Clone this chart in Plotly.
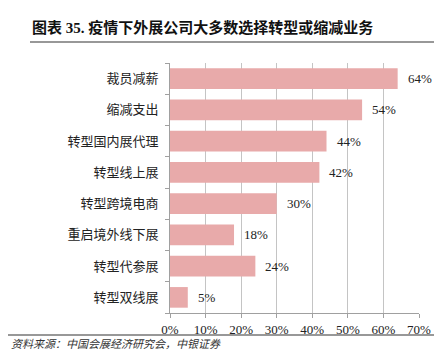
import plotly.graph_objects as go

categories = ["裁员减薪", "缩减支出", "转型国内展代理", "转型线上展", "转型跨境电商", "重启境外线下展", "转型代参展", "转型双线展"]
values = [64, 54, 44, 42, 30, 18, 24, 5]
x_ticks = [0, 10, 20, 30, 40, 50, 60, 70]
title_text = "图表 35. 疫情下外展公司大多数选择转型或缩减业务"
source_text = "资料来源：中国会展经济研究会，中银证券"

CJK = "Liberation Serif, Noto Sans CJK SC"
bar_color = "#E8AAAA"

PW, PH = 249, 250

fig = go.Figure()
fig.add_trace(go.Bar(
    x=values, y=categories, orientation="h",
    marker=dict(color=bar_color, line=dict(width=0)),
    width=0.66,
))

for c, v in zip(categories, values):
    fig.add_annotation(x=v, y=c, text=f"{v}%", showarrow=False, xanchor="left",
                       xshift=8, font=dict(family="Liberation Serif", size=13, color="#222"))

fig.update_layout(
    width=442, height=358,
    margin=dict(l=162, r=31, t=55, b=53, autoexpand=False),
    paper_bgcolor="white", plot_bgcolor="white",
    showlegend=False,
    font=dict(family=CJK, size=12, color="#222"),
)
fig.update_xaxes(
    range=[0, 70], tickvals=x_ticks, ticktext=[f"{t}%" for t in x_ticks],
    showgrid=True, gridcolor="#C4C4C4", gridwidth=1,
    showline=True, linecolor="#A0A0A0", linewidth=1,
    ticks="outside", ticklen=4, tickcolor="#A0A0A0",
    tickfont=dict(family="Liberation Serif", size=13, color="#222"),
    zeroline=False, automargin=False,
)
fig.update_yaxes(
    categoryorder="array", categoryarray=categories[::-1],
    showline=True, linecolor="#A0A0A0", linewidth=1,
    ticks="outside", ticklen=4, tickcolor="#A0A0A0", tickson="boundaries",
    showgrid=False, automargin=False,
    tickfont=dict(family=CJK, size=13, color="#222"),
    ticklabelstandoff=8,
)

# Title and rules
fig.add_annotation(xref="paper", yref="paper", x=-140/PW, y=1 + 35/PH, xanchor="left", yanchor="middle",
                   text=f"<b>{title_text}</b>", showarrow=False,
                   font=dict(family="Liberation Serif, Noto Sans CJK SC", size=15, color="#111"))
fig.add_shape(type="line", xref="paper", yref="paper", x0=-140/PW, x1=1 + 23/PW,
              y0=1 + 21/PH, y1=1 + 21/PH, line=dict(color="#333", width=1.2))
fig.add_shape(type="line", xref="paper", yref="paper", x0=-162/PW, x1=1 + 23/PW,
              y0=-22/PH, y1=-22/PH, line=dict(color="#333", width=1.2))
fig.add_annotation(xref="paper", yref="paper", x=-161/PW, y=-31/PH, xanchor="left", yanchor="middle",
                   text=f"<i>{source_text}</i>", showarrow=False,
                   font=dict(family="Liberation Serif, Noto Sans CJK SC", size=11, color="#333"))

fig.write_html("out.html")
